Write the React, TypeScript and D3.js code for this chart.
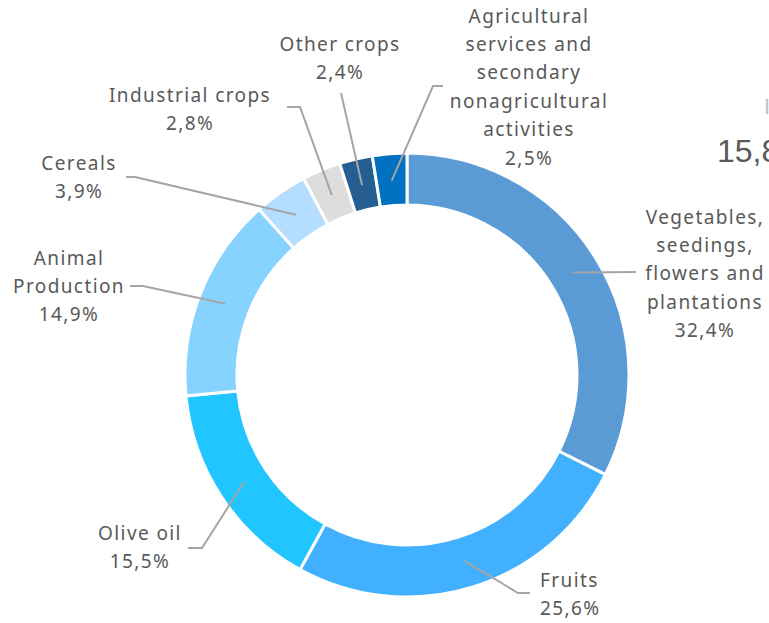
import * as d3 from "d3";
import { useEffect, useRef } from "react";

// chart data
const categories = [
  "Vegetables, seedings, flowers and plantations",
  "Fruits",
  "Olive oil",
  "Animal Production",
  "Cereals",
  "Industrial crops",
  "Other crops",
  "Agricultural services and secondary nonagricultural activities",
];
const shares = [32.4, 25.6, 15.5, 14.9, 3.9, 2.8, 2.4, 2.5];
const shareLabels = ["32,4%", "25,6%", "15,5%", "14,9%", "3,9%", "2,8%", "2,4%", "2,5%"];
const colors = ["#5B9BD5", "#41B0FF", "#21C5FF", "#87D3FF", "#B4DDFF", "#DDDDDD", "#255E91", "#0070C0"];

// label layout: text lines, text centre x, first line centre y, leader end + optional elbow
const labelLines = [
  ["Vegetables,", "seedings,", "flowers and", "plantations"],
  ["Fruits"],
  ["Olive oil"],
  ["Animal", "Production"],
  ["Cereals"],
  ["Industrial crops"],
  ["Other crops"],
  ["Agricultural", "services and", "secondary", "nonagricultural", "activities"],
];
const labelPos = [
  { x: 705, y: 217, anchor: "middle", end: [636, 272], elbow: null },
  { x: 540, y: 580, anchor: "start", end: [530, 593], elbow: [518, 593] },
  { x: 140, y: 533, anchor: "middle", end: [188, 548], elbow: [202, 548] },
  { x: 69, y: 258, anchor: "middle", end: [130, 286], elbow: [143, 286] },
  { x: 79, y: 163, anchor: "middle", end: [126, 177], elbow: [135, 177] },
  { x: 190, y: 95, anchor: "middle", end: [287, 107], elbow: [300, 107] },
  { x: 340, y: 44, anchor: "middle", end: [341, 93], elbow: null },
  { x: 529, y: 16, anchor: "middle", end: [443, 86], elbow: [433, 86] },
];

const W = 769;
const H = 623;

export default function App() {
  const ref = useRef<SVGSVGElement>(null);

  useEffect(() => {
    const svg = d3.select(ref.current);
    svg.selectAll("*").remove();

    const cx = 407;
    const cy = 375;
    const outer = 222;
    const inner = 170;
    const lineHeight = 28.4;
    const font = "'Noto Sans', sans-serif";

    const data = categories.map((c, i) => ({ name: c, value: shares[i], i }));
    const pie = d3.pie<any>().sort(null).value((d) => d.value);
    const arcs = pie(data);
    const arc = d3.arc<any>().innerRadius(inner).outerRadius(outer);
    const anchorArc = d3.arc<any>().innerRadius(195).outerRadius(195);

    const g = svg.append("g").attr("transform", `translate(${cx},${cy})`);

    g.selectAll("path.slice")
      .data(arcs)
      .join("path")
      .attr("class", "slice")
      .attr("d", arc)
      .attr("fill", (d) => colors[d.data.i])
      .attr("stroke", "#fff")
      .attr("stroke-width", 3);

    // leader lines
    arcs.forEach((a) => {
      const p = labelPos[a.data.i];
      const [ax, ay] = anchorArc.centroid(a);
      const pts: [number, number][] = [[ax + cx, ay + cy]];
      if (p.elbow) pts.push(p.elbow as [number, number]);
      pts.push(p.end as [number, number]);
      svg
        .append("path")
        .attr("d", d3.line()(pts))
        .attr("fill", "none")
        .attr("stroke", "#A5A5A5")
        .attr("stroke-width", 2);
    });

    // labels
    arcs.forEach((a) => {
      const i = a.data.i;
      const p = labelPos[i];
      const lines = [...labelLines[i], shareLabels[i]];
      const t = svg
        .append("text")
        .attr("text-anchor", p.anchor)
        .attr("font-family", font)
        .attr("font-size", 19)
        .attr("letter-spacing", 1.4)
        .attr("fill", "#595959");
      lines.forEach((l, k) => {
        t.append("tspan")
          .attr("x", p.x)
          .attr("y", p.y + k * lineHeight + 6.5)
          .text(l);
      });
    });

    // partly visible neighbour chart on the right edge
    svg
      .append("text")
      .attr("x", 717)
      .attr("y", 162)
      .attr("font-family", "'Liberation Sans', sans-serif")
      .attr("font-size", 32)
      .attr("fill", "#595959")
      .text("15,8%");
    svg
      .append("text")
      .attr("x", 764)
      .attr("y", 114)
      .attr("font-family", "'Liberation Sans', sans-serif")
      .attr("font-size", 22)
      .attr("fill", "#BFBFBF")
      .text("I");
  }, []);

  return (
    <svg
      ref={ref}
      width={W}
      height={H}
      style={{ position: "absolute", left: 0, top: 0, background: "#fff" }}
    />
  );
}
